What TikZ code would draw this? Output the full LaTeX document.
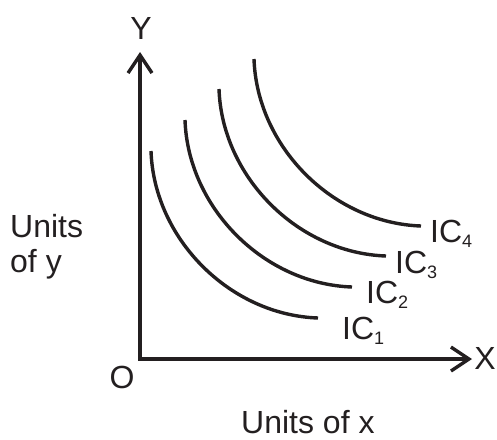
\documentclass[tikz,border=0pt]{standalone}
\usepackage{fontspec}
\setmainfont{Liberation Sans}
\usetikzlibrary{arrows.meta}
\definecolor{ink}{HTML}{231F20}
\tikzset{
  axisline/.style={draw=ink, line width=3.4pt, -{Straight Barb[length=18pt,width=24pt,line width=3.4pt]}},
  curveline/.style={draw=ink, line width=3.4pt, line cap=butt},
  lbl/.style={inner sep=0pt, text=ink, font=\fontsize{32}{36}\selectfont},
  iclbl/.style={inner sep=0pt, text=ink, anchor=base west, font=\fontsize{32}{36}\selectfont}
}
\newcommand{\icsub}[1]{\raisebox{-5pt}{\fontsize{18}{18}\selectfont #1}}
\begin{document}
\begin{tikzpicture}[x=1pt,y=-1pt]
\useasboundingbox (0,0) rectangle (497,439);
\coordinate (O) at (140,359);
\coordinate (ytip) at (140,52);
\coordinate (xtip) at (472,359);
\draw[axisline] ([yshift=-1.7pt]O) -- (ytip);
\draw[axisline] ([xshift=-1.7pt]O) -- (xtip);
% indifference curves
\foreach \sx/\sy in {151/151, 185/120, 219/89, 254/59}{
  \draw[curveline] (\sx,\sy) .. controls (\sx+3,\sy+88) and (\sx+79,\sy+164) .. (\sx+167,\sy+167);
}
\node[lbl] (Y) at (141,28) {Y};
\node[lbl, anchor=east] (X) at (496,358) {X};
\node[lbl] (Olbl) at (122,377) {O};
\node[iclbl] (ic1) at (342,339) {IC\icsub{1}};
\node[iclbl] (ic2) at (366,303) {IC\icsub{2}};
\node[iclbl] (ic3) at (395,273) {IC\icsub{3}};
\node[iclbl] (ic4) at (430,242) {IC\icsub{4}};
\node[iclbl] (uy1) at (10,237) {Units};
\node[iclbl] (uy2) at (10,272) {of y};
\node[iclbl] (ux) at (241,433) {Units of x};
\end{tikzpicture}
\end{document}
